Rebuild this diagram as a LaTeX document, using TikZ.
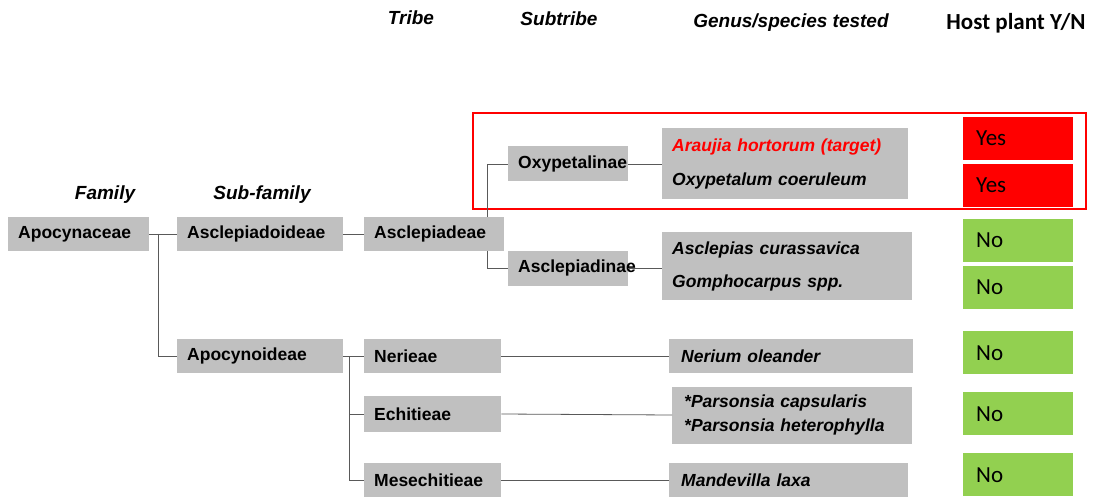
\documentclass[tikz,border=0pt]{standalone}
\usepackage{fontspec}
\setmainfont{Liberation Sans}
\newfontfamily\calibri{Carlito}
\definecolor{boxgrey}{HTML}{C0C0C0}
\definecolor{hostgreen}{HTML}{92D050}
\definecolor{hostred}{HTML}{FF0000}
\definecolor{linkgrey}{HTML}{595959}
\tikzset{
  taxon/.style={fill=boxgrey, anchor=west, align=left, inner xsep=10pt, inner ysep=0pt,
    minimum height=34pt, font=\fontsize{17.5}{20}\selectfont\bfseries},
  species/.style={taxon, font=\fontsize{17.5}{20}\selectfont\bfseries\itshape},
  head/.style={font=\fontsize{19}{22}\selectfont\bfseries\itshape},
  hostbox/.style={anchor=north west, align=left, inner xsep=13pt, text width=84pt,
    minimum height=43pt, font=\calibri\fontsize{23}{26}\selectfont},
  yesbox/.style={hostbox, fill=hostred},
  nobox/.style={hostbox, fill=hostgreen},
  link/.style={draw=linkgrey, line width=0.8pt},
}
\begin{document}
\begin{tikzpicture}[x=1pt, y=-1pt]
                \useasboundingbox (0,0) rectangle (1103,497);
                % column heads
                \node[head] (hfam) at (105,195) {Family};
                \node[head] (hsub) at (262,195) {Sub-family};
                \node[head] (htribe) at (411,18) {Tribe};
                \node[head] (hsubtribe) at (559,19) {Subtribe};
                \node[head] (hgenus) at (791,23) {Genus/species tested};
                \node[font=\calibri\fontsize{23}{26}\selectfont\bfseries] (hhost) at (1016,23) {Host plant Y/N};
                % taxa
                \node[taxon, text width=121pt] (fam) at (8,234) {Apocynaceae};
                \node[taxon, text width=146pt] (subA) at (177,234) {Asclepiadoideae};
                \node[taxon, text width=146pt] (subB) at (177,356) {Apocynoideae};
                \node[taxon, text width=120pt] (tribeA) at (364,234) {Asclepiadeae};
                \node[taxon, text width=117pt] (nerieae) at (364,356) {Nerieae};
                \node[taxon, text width=117pt, minimum height=36pt] (echit) at (364,414) {Echitieae};
                \node[taxon, text width=117pt] (mesech) at (364,480) {Mesechitieae};
                \node[taxon, text width=100pt, minimum height=35pt] (oxy) at (508,164) {Oxypetalinae};
                \node[taxon, text width=100pt, minimum height=35pt] (ascl) at (508,268) {Asclepiadinae};
                % genera and species
                \node[species, text width=226pt, minimum height=71pt] (genusA) at (662,164)
                  {\textcolor{hostred}{Araujia hortorum (target)}\\[14pt]Oxypetalum coeruleum};
                \node[species, text width=230pt, minimum height=67pt] (genusB) at (662,266)
                  {Asclepias curassavica\\[13pt]Gomphocarpus spp.};
                \node[species, text width=220pt, inner xsep=12pt] (nerium) at (669,356) {Nerium oleander};
                \node[species, text width=216pt, inner xsep=12pt, minimum height=57pt] (pars) at (672,415)
                  {*Parsonsia capsularis\\[4pt]*Parsonsia heterophylla};
                \node[species, text width=215pt, inner xsep=12pt] (mand) at (669,480) {Mandevilla laxa};
                % host plant answers
                \node[yesbox] (yesA) at (963,117) {Yes};
                \node[yesbox] (yesB) at (963,164) {Yes};
                \node[nobox] (noA) at (963,219) {No};
                \node[nobox] (noB) at (963,266) {No};
                \node[nobox] (noC) at (963,331) {No};
                \node[nobox] (noD) at (963,392) {No};
                \node[nobox] (noE) at (963,453) {No};
                % the target group
                \draw[hostred, line width=2.5pt] (473,113) rectangle (1086,209);
                % links
                \coordinate (famjoint) at (158,234);
                \coordinate (tribejoint) at (487,234);
                \coordinate (subjoint) at (349,356);
                \draw[link] (fam.east) -- (subA.west);
                \draw[link] (famjoint) |- (subB.west);
                \draw[link] (subA.east) -- (tribeA.west);
                \draw[link] (tribejoint |- tribeA.north) |- (oxy.west);
                \draw[link] (tribejoint |- tribeA.south) |- (ascl.west);
                \draw[link] (oxy.east) -- (oxy.east -| genusA.west);
                \draw[link] (ascl.east) -- (ascl.east -| genusB.west);
                \draw[link] (subB.east) -- (nerieae.west);
                \draw[link] (subjoint) |- (echit.west);
                \draw[link] (subjoint) |- (mesech.west);
                \draw[link] (nerieae.east) -- (nerium.west);
                \draw[link] (echit.east) -- (pars.west);
                \draw[link] (mesech.east) -- (mand.west);

            \end{tikzpicture}
\end{document}
